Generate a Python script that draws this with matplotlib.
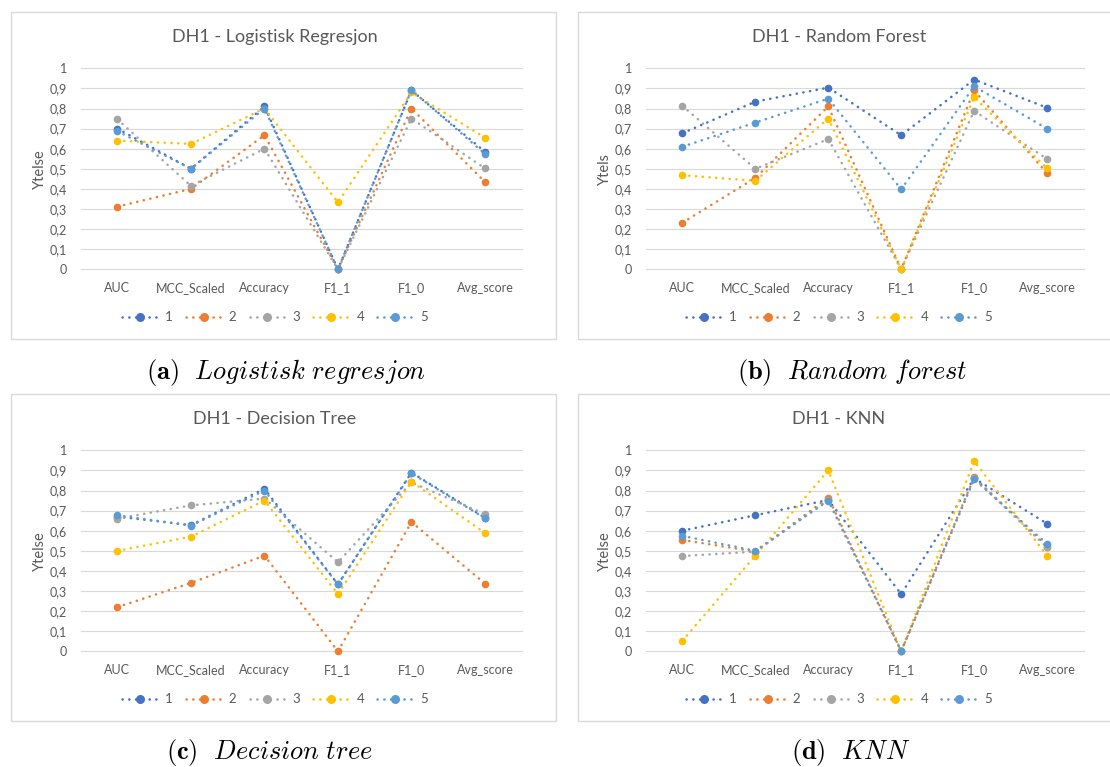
import matplotlib.pyplot as plt
from matplotlib.lines import Line2D
from matplotlib.patches import Rectangle
from matplotlib.legend_handler import HandlerBase

plt.rcParams['font.family'] = ['Lato', 'DejaVu Sans']
plt.rcParams['mathtext.fontset'] = 'cm'

metrics = ['AUC', 'MCC_Scaled', 'Accuracy', 'F1_1', 'F1_0', 'Avg_score']
runs = ['1', '2', '3', '4', '5']
colors = ['#4472C4', '#ED7D31', '#A5A5A5', '#FFC000', '#5B9BD5']

# scores per run (rows) for each metric (columns)
logreg = [
    [0.70, 0.50, 0.81, 0.00, 0.89, 0.585],
    [0.312, 0.40, 0.667, 0.00, 0.80, 0.435],
    [0.746, 0.415, 0.60, 0.00, 0.75, 0.502],
    [0.64, 0.624, 0.80, 0.333, 0.88, 0.655],
    [0.687, 0.50, 0.80, 0.00, 0.892, 0.574],
]
rforest = [
    [0.677, 0.834, 0.904, 0.667, 0.944, 0.804],
    [0.232, 0.455, 0.81, 0.00, 0.89, 0.478],
    [0.813, 0.50, 0.648, 0.00, 0.788, 0.549],
    [0.468, 0.44, 0.75, 0.00, 0.856, 0.502],
    [0.61, 0.73, 0.849, 0.398, 0.91, 0.70],
]
dtree = [
    [0.67, 0.628, 0.809, 0.333, 0.889, 0.665],
    [0.22, 0.34, 0.476, 0.00, 0.643, 0.337],
    [0.66, 0.726, 0.76, 0.443, 0.84, 0.683],
    [0.50, 0.57, 0.75, 0.285, 0.844, 0.589],
    [0.677, 0.625, 0.80, 0.333, 0.886, 0.662],
]
knn = [
    [0.60, 0.677, 0.753, 0.285, 0.861, 0.635],
    [0.554, 0.496, 0.765, 0.00, 0.866, 0.521],
    [0.474, 0.496, 0.753, 0.00, 0.861, 0.517],
    [0.053, 0.476, 0.90, 0.00, 0.947, 0.476],
    [0.574, 0.50, 0.75, 0.00, 0.856, 0.534],
]

W, H = 1110, 767
fig = plt.figure(figsize=(W / 100, H / 100), dpi=100)

def fx(px):
    return px / W

def fy(py):
    return 1 - py / H

grey = '#595959'
dots = (0, (0.1, 2.6))
ticks = [i / 10 for i in range(11)]
ticklabels = [f'{t:g}'.replace('.', ',') for t in ticks]


class DottedMarkerHandler(HandlerBase):
    # dotted line across the whole handle with one marker in the middle
    def create_artists(self, legend, orig, xdescent, ydescent, width, height,
                       fontsize, trans):
        y = height / 2 - ydescent
        line = Line2D([-xdescent, width - xdescent], [y, y],
                      color=orig.get_color(), lw=1.8, linestyle=dots,
                      dash_capstyle='round', transform=trans)
        mark = Line2D([width / 2 - xdescent], [y], color=orig.get_color(),
                      marker='o', markersize=6.5, markeredgewidth=0,
                      linestyle='none', transform=trans)
        return [line, mark]


# (data, title, ylabel, tag, caption, panel box, plot box, centre x, caption x, caption y)
panels = [
    (logreg, 'DH1 - Logistisk Regresjon', 'Ytelse', 'a', r'Logistisk\ regresjon',
     (11.3, 12, 555.7, 339), (80.7, 68.3, 521.7, 269.3), 275, 286, 373),
    (rforest, 'DH1 - Random Forest', 'Ytels', 'b', r'Random\ forest',
     (578.3, 12, 1125, 339), (646, 68.3, 1083.5, 269.3), 839, 852, 373),
    (dtree, 'DH1 - Decision Tree', 'Ytelse', 'c', r'Decision\ tree',
     (11.3, 394, 555.7, 721.3), (80.7, 450.3, 521.7, 651.3), 275, 270, 752),
    (knn, 'DH1 - KNN', 'Ytelse', 'd', r'KNN',
     (578.3, 394, 1125, 721.3), (646, 450.3, 1083.5, 651.3), 839, 851, 752),
]

for data, title, ylabel, tag, caption, box, plot, cx, capx, capy in panels:
    bx0, by0, bx1, by1 = box
    fig.add_artist(Rectangle((fx(bx0), fy(by1)), (bx1 - bx0) / W, (by1 - by0) / H,
                             transform=fig.transFigure, fill=False,
                             ec='#D9D9D9', lw=1.0))

    px0, py0, px1, py1 = plot
    ax = fig.add_axes([fx(px0), fy(py1), (px1 - px0) / W, (py1 - py0) / H])
    lines = []
    for i, vals in enumerate(data):
        ln, = ax.plot(range(len(metrics)), vals, color=colors[i], lw=1.8,
                      linestyle=dots, dash_capstyle='round',
                      marker='o', markersize=5.5, markeredgewidth=0,
                      clip_on=False, zorder=3 + i)
        lines.append(ln)
    ax.set_xlim(-0.5, len(metrics) - 0.5)
    ax.set_ylim(0, 1)
    ax.set_xticks(range(len(metrics)))
    ax.set_xticklabels(metrics)
    ax.set_yticks(ticks)
    ax.set_yticklabels(ticklabels)
    ax.tick_params(length=0, labelsize=9, labelcolor=grey)
    ax.tick_params(axis='x', pad=9.5)
    ax.tick_params(axis='y', pad=10)
    for s in ax.spines.values():
        s.set_visible(False)
    ax.grid(axis='y', color='#D9D9D9', lw=0.8)
    for gl in ax.get_ygridlines():
        gl.set_clip_on(False)
    ax.set_axisbelow(True)

    fig.text(fx(cx), fy(py0 - 31), title, ha='center', va='center',
             fontsize=13, color=grey)
    fig.text(fx(px0 - 40.7), fy((py0 + py1) / 2), ylabel, rotation=90,
             ha='center', va='center', fontsize=10.5, color=grey)

    leg = ax.legend(lines, runs, loc='center', ncol=5, frameon=False,
                    bbox_to_anchor=(fx(cx), fy(py1 + 48)),
                    bbox_transform=fig.transFigure, fontsize=9.5,
                    handler_map={Line2D: DottedMarkerHandler()},
                    handlelength=2.7, handletextpad=0.55, columnspacing=1.0)
    for t in leg.get_texts():
        t.set_color(grey)

    fig.text(fx(capx), fy(capy), rf'$\mathbf{{({tag})}}\ \ \mathit{{{caption}}}$',
             ha='center', va='center', fontsize=19, color='black')

fig.savefig('out.png', dpi=100, facecolor='white')
